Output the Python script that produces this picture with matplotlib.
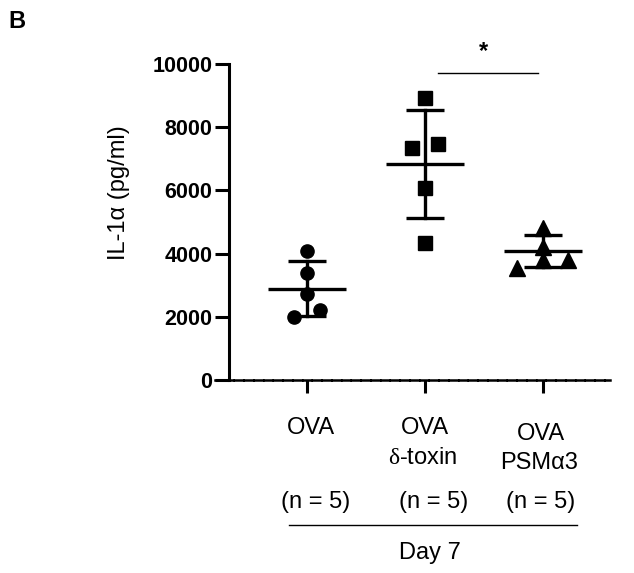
import numpy as np
import matplotlib.pyplot as plt
import matplotlib.transforms as mtransforms

plt.rcParams['font.family'] = ['Liberation Sans', 'DejaVu Sans']
plt.rcParams['mathtext.fontset'] = 'custom'
plt.rcParams['mathtext.rm'] = 'Liberation Serif'

# --- data ---
top_labels = ['OVA', 'OVA', 'OVA']
sub_labels = ['', '$\\mathrm{\\delta}$-toxin', 'PSM\u03b13']
n_labels = ['(n = 5)', '(n = 5)', '(n = 5)']
markers = ['o', 's', '^']

ova = [4090, 3380, 2720, 2215, 1985]
ova_dx = [0, 0, 0, 0.11, -0.11]
delta = [8910, 7350, 7460, 6090, 4330]
delta_dx = [0, -0.11, 0.11, 0, 0]
psm = [4800, 4220, 3800, 3530, 3800]
psm_dx = [0, 0, 0, -0.22, 0.21]

means = [2890, 6835, 4070]
sds = [865, 1720, 505]

values = [ova, delta, psm]
offsets = [ova_dx, delta_dx, psm_dx]

W, H = 634, 573
fig = plt.figure(figsize=(W / 100, H / 100), dpi=100)
ax = fig.add_axes([229 / W, 1 - 380 / H, (610 - 229) / W, (380 - 64) / H])

for i in range(3):
    x = i + np.array(offsets[i])
    ax.plot(x, values[i], linestyle='none', marker=markers[i], color='black',
            markersize=9.5 if i != 2 else 11, clip_on=False, zorder=3)
    # mean line
    ax.plot([i - 0.33, i + 0.33], [means[i], means[i]], color='black', lw=2.4,
            solid_capstyle='butt', zorder=4)
    # SD bar with caps
    ax.plot([i, i], [means[i] - sds[i], means[i] + sds[i]], color='black', lw=2.4, zorder=4)
    for yv in (means[i] - sds[i], means[i] + sds[i]):
        ax.plot([i - 0.165, i + 0.165], [yv, yv], color='black', lw=2.4,
                solid_capstyle='butt', zorder=4)

# significance bar
ax.plot([1.11, 1.96], [9710, 9710], color='black', lw=1.0, clip_on=False)
ax.text(1.5, 10020, '*', ha='center', va='bottom', fontsize=17, fontweight='bold',
        clip_on=False)

ax.set_xlim(-0.661, 2.568)
ax.set_ylim(0, 10000)
ax.set_yticks([0, 2000, 4000, 6000, 8000, 10000])
ax.set_xticks([0, 1, 2])
ax.set_xticklabels([])

ax.tick_params(axis='y', length=10, width=2.2, labelsize=15.5, pad=2, direction='out')
for lab in ax.get_yticklabels():
    lab.set_fontweight('bold')
ax.tick_params(axis='x', length=9.5, width=2.2, direction='out')

ax.spines['top'].set_visible(False)
ax.spines['right'].set_visible(False)
ax.spines['left'].set_linewidth(2.2)
ax.spines['bottom'].set_linewidth(1.8)
ax.spines['bottom'].set_linestyle((0, (3.4, 0.5)))
ax.spines['bottom'].set_bounds(-0.78, 2.568)

ax.set_ylabel('IL-1\u03b1 (pg/ml)', fontsize=17, va='center')
ax.yaxis.set_label_coords((119 - 229) / 381, (380 - 193) / 316)

# category labels below the axis (x in data units, y in figure pixels)
trans = mtransforms.blended_transform_factory(ax.transData, fig.transFigure)
top_x = [0.03, 1.0, 1.98]
top_y = [428, 428, 434]
sub_x = [1.0, 0.98, 1.97]
sub_y = [458, 458, 463]
n_x = [0.07, 1.07, 1.98]
for i in range(3):
    ax.text(top_x[i], 1 - top_y[i] / H, top_labels[i], transform=trans,
            ha='center', va='center', fontsize=17)
    if sub_labels[i]:
        ax.text(sub_x[i], 1 - sub_y[i] / H, sub_labels[i], transform=trans,
                ha='center', va='center', fontsize=17)
    ax.text(n_x[i], 1 - 502 / H, n_labels[i], transform=trans,
            ha='center', va='center', fontsize=17)

fig.add_artist(plt.Line2D([289 / W, 577 / W], [1 - 525 / H, 1 - 525 / H],
                          color='black', lw=1.0))
fig.text(430 / W, 1 - 553 / H, 'Day 7', ha='center', va='center', fontsize=17)
fig.text(8 / W, 1 - 22 / H, 'B', ha='left', va='center', fontsize=17, fontweight='bold')

fig.savefig('out.png', dpi=100)
